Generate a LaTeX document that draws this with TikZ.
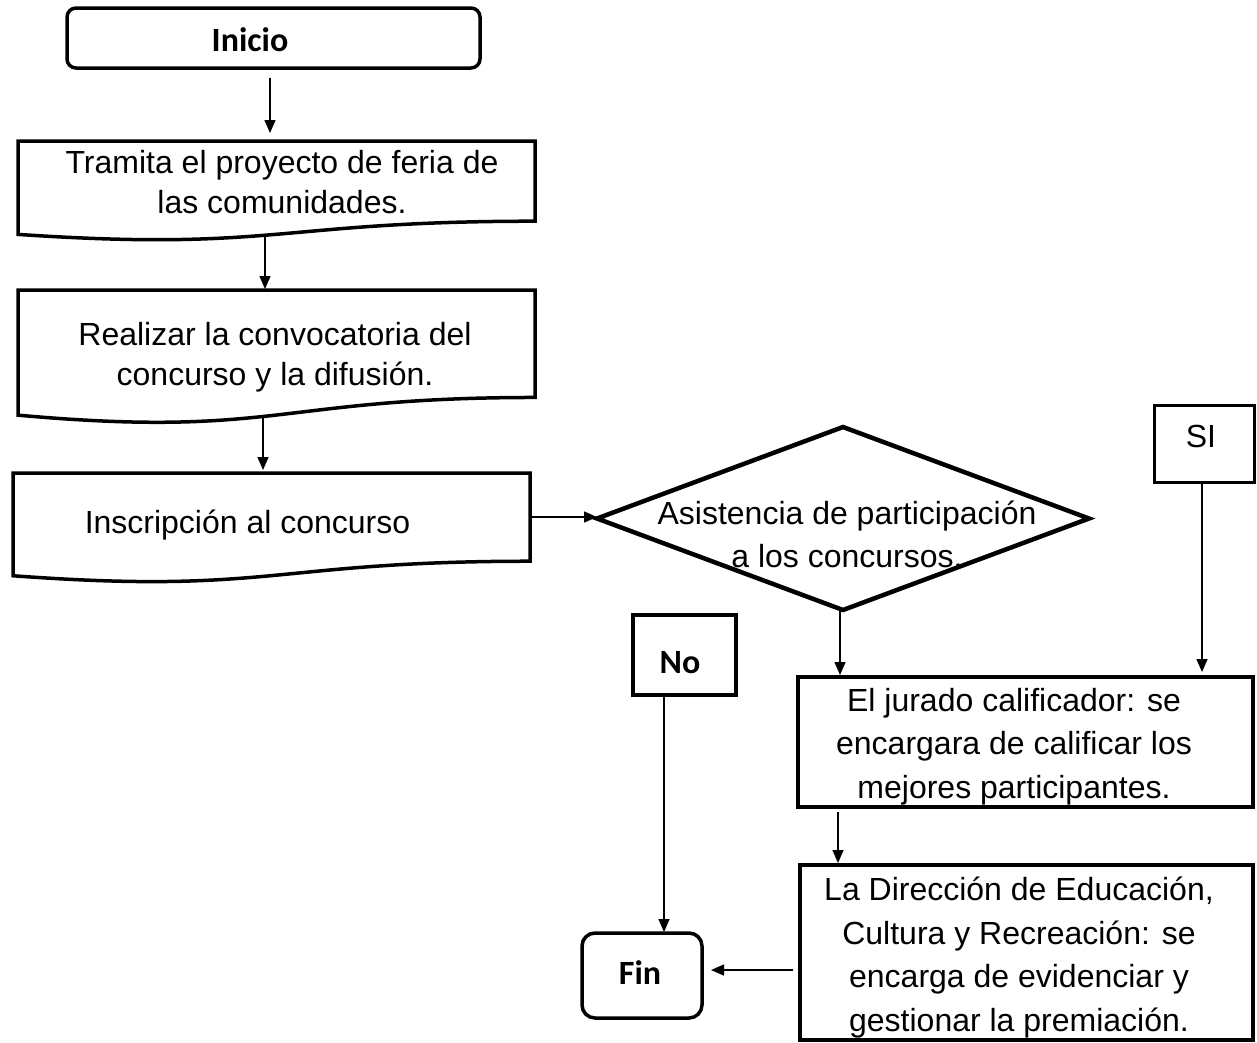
\documentclass[tikz,border=0pt]{standalone}
\usepackage{fontspec}
\setmainfont{Liberation Sans}
\newfontfamily\calfont{Carlito}
\usetikzlibrary{arrows.meta,shapes.geometric}
\newcommand\docpath[2]{\draw[docline] (#1.north west) -- (#1.north east) -- ([yshift=0.198*#2]#1.south east) .. controls ([yshift=0.198*#2]#1.south) and ([yshift=-0.107*#2]#1.south) .. ([yshift=0.066*#2]#1.south west) -- cycle;}
\begin{document}
\begin{tikzpicture}[x=1pt,y=1pt,
  frame/.style={draw=black, line width=3.5pt, inner sep=0pt, outer sep=0pt},
  shapebox/.style={inner sep=0pt, outer sep=0pt, minimum width=517pt},
  docline/.style={line width=3.5pt, line join=miter},
  txt/.style={font=\fontsize{32}{40}\selectfont, align=center, inner sep=0pt},
  txtr/.style={font=\fontsize{32}{43.5}\selectfont, align=center, inner sep=0pt},
  term/.style={font=\calfont\bfseries\fontsize{34}{40}\selectfont, inner sep=0pt},
  arr/.style={line width=1.5pt, -{Triangle[length=13pt,width=11pt]}}]
\useasboundingbox (0,0) rectangle (1257,-1042);
% terminals and boxes
\node[frame, rounded corners=9pt, minimum width=413pt, minimum height=60pt] (inicio) at (273.5,-38) {};
\node[term] (inicioT) at (250,-40) {Inicio};
\node[shapebox, minimum height=100pt] (tramita) at (276.5,-191) {};
\docpath{tramita}{100}
\node[txt] (tramitaT) at (282,-182) {Tramita el proyecto de feria de\\las comunidades.};
\node[shapebox, minimum height=134pt] (realizar) at (276.5,-357) {};
\docpath{realizar}{134}
\node[txt] (realizarT) at (275,-357) {Realizar la convocatoria del\\concurso y la difusión.};
\node[shapebox, minimum height=110pt] (insc) at (271.5,-528) {};
\docpath{insc}{110}
\node[txt] (inscT) at (247.5,-525) {Inscripción al concurso};
\node[draw, diamond, line width=4.5pt, minimum width=492pt, minimum height=183pt, inner sep=0pt, outer sep=0pt] (dia) at (843,-518.5) {};
\node[txtr] (diaT) at (847,-534.5) {Asistencia de participación\\a los concursos.};
\node[frame, line width=3pt, minimum width=100pt, minimum height=77pt] (si) at (1204,-443.5) {};
\node[txt] (siT) at (1201,-436) {SI};
\node[frame, minimum width=455pt, minimum height=130pt] (jurado) at (1025.5,-742) {};
\node[txtr] (juradoT) at (1014,-746.5) {El jurado calificador: se\\encargara de calificar los\\mejores participantes.};
\node[frame, minimum width=453pt, minimum height=175pt] (dir) at (1026.5,-952.5) {};
\node[txtr] (dirT) at (1019,-957.5) {La Dirección de Educación,\\Cultura y Recreación: se\\encarga de evidenciar y\\gestionar la premiación.};
\node[frame, minimum width=103pt, minimum height=80pt] (no) at (684.5,-655) {};
\node[term] (noT) at (680,-663) {No};
\node[frame, rounded corners=13pt, minimum width=120pt, minimum height=85pt] (fin) at (642,-975.5) {};
\node[term] (finT) at (640,-973) {Fin};
% connectors
\draw[arr, shorten <=10pt, shorten >=8pt] ([xshift=-3.5pt]inicio.south) -- ([xshift=-3.5pt]inicio.south |- tramita.north);
\draw[arr, shorten <=-6pt, shorten >=1pt] ([xshift=-11.5pt]tramita.south) -- ([xshift=-11.5pt]tramita.south |- realizar.north);
\draw[arr, shorten <=-9pt, shorten >=3pt] ([xshift=-13.5pt]realizar.south) -- ([xshift=-13.5pt]realizar.south |- insc.north);
\draw[arr] ([yshift=11pt]insc.east) -- ([yshift=11pt]insc.east -| dia.west);
\draw[arr, shorten >=2pt] ([xshift=-3pt]dia.south) -- ([xshift=-3pt]dia.south |- jurado.north);
\draw[arr, shorten >=5pt] ([xshift=-2pt]si.south) -- ([xshift=-2pt]si.south |- jurado.north);
\draw[arr, shorten <=5pt, shorten >=2pt] ([xshift=-187.5pt]jurado.south) -- ([xshift=-187.5pt]jurado.south |- dir.north);
\draw[arr, shorten >=1pt] ([xshift=-20.5pt]no.south) -- ([xshift=-20.5pt]no.south |- fin.north);
\draw[arr, shorten <=7pt, shorten >=9pt] ([yshift=-17.5pt]dir.west) -- ([yshift=-17.5pt]dir.west -| fin.east);
\end{tikzpicture}
\end{document}
